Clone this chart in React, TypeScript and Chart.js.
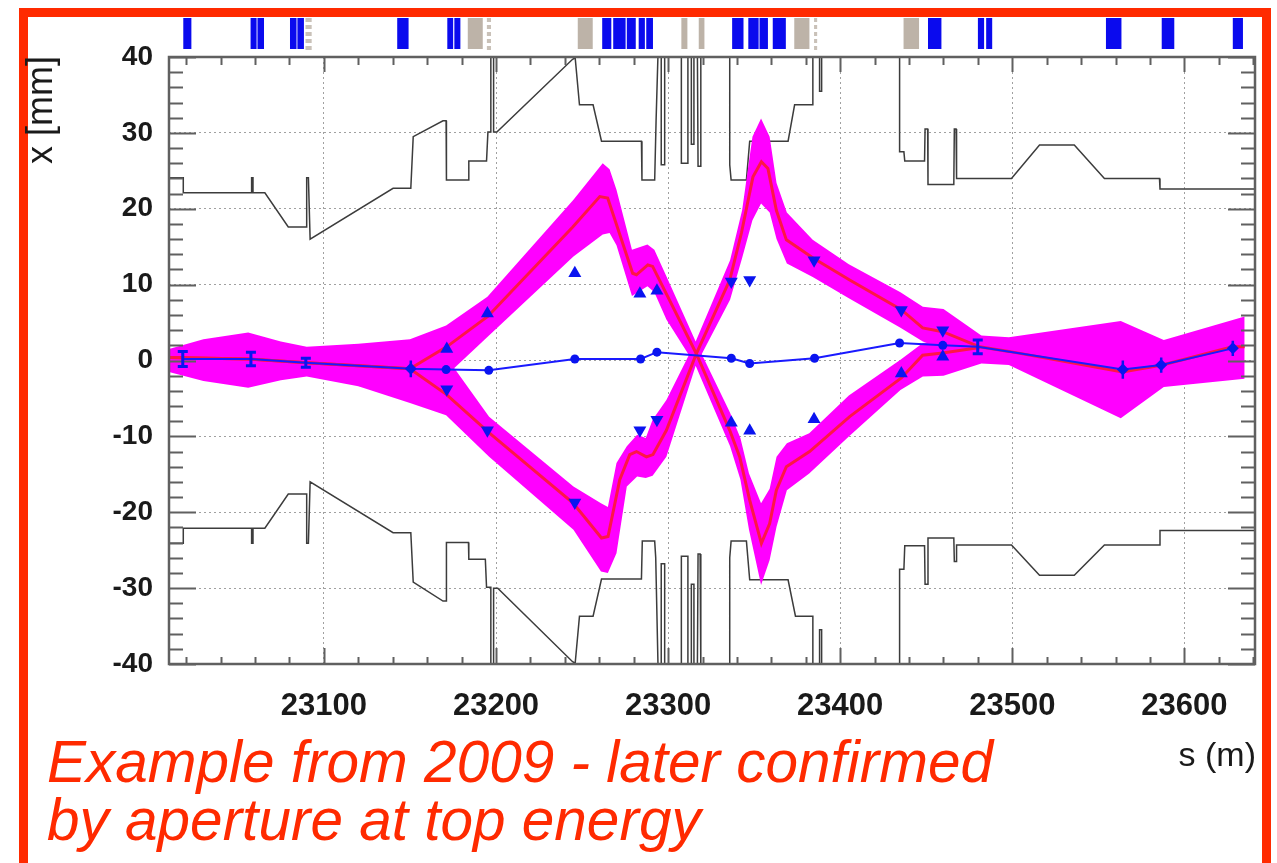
import React, { useEffect, useRef } from "react";
import { Chart, registerables } from "chart.js";

Chart.register(...registerables);

const FONT = '"Liberation Sans", Arial, Helvetica, sans-serif';

// ---------- axes ----------
const S_MIN = 23010;
const S_MAX = 23641;
const X_MIN = -40;
const X_MAX = 40;
const sTickValues = [23100, 23200, 23300, 23400, 23500, 23600];
const xTickValues = [-40, -30, -20, -10, 0, 10, 20, 30, 40];
const sMinorStep = 20;
const xMinorStep = 2;

// ---------- aperture (upper / lower), s [m] and x [mm] ----------
const apUpperS = [23010, 23018.3, 23018.3, 23058, 23058, 23058.8, 23058.8, 23065.7, 23079.3, 23090, 23090, 23091, 23092, 23140.2, 23150.5, 23151.9, 23169.2, 23171, 23171.2, 23183.8, 23184.2, 23194.5, 23195.3, 23197, 23197, 23198.6, 23198.6, 23200.5, 23244.5, 23246, 23248.5, 23256.4, 23261.3, 23284.5, 23284.8, 23292.2, 23293, 23294.2, 23296, 23296, 23298, 23298, 23307.7, 23307.7, 23311.5, 23311.5, 23313.5, 23313.5, 23315, 23315, 23317, 23317.4, 23318.6, 23319, 23335.8, 23335.8, 23336.6, 23345.5, 23347.4, 23369.7, 23373.5, 23384.1, 23384.1, 23388, 23388, 23389.2, 23389.2, 23434.5, 23434.5, 23437, 23437.5, 23449, 23449.3, 23450.8, 23451, 23466, 23466.3, 23467.3, 23467.6, 23499.5, 23515.8, 23536, 23553.5, 23585.5, 23585.8, 23641];
const apUpperX = [24.1, 24.1, 22.1, 22.1, 24.1, 24.1, 22.1, 22.1, 17.6, 17.6, 24.1, 24.1, 16.0, 22.7, 22.7, 29.5, 31.6, 31.6, 23.8, 23.8, 26.3, 26.3, 30.1, 30.1, 41, 41, 30.1, 30.1, 39.7, 39.9, 33.7, 33.7, 28.9, 28.9, 23.8, 23.8, 31.5, 41, 41, 25.8, 25.8, 41, 41, 26, 26, 41, 41, 28.5, 28.5, 41, 41, 25.6, 25.6, 41, 41, 25.8, 23.8, 23.8, 28.9, 28.9, 33.7, 33.7, 41, 41, 35.5, 35.5, 41, 41, 27.5, 27.5, 26.3, 26.3, 30.5, 30.5, 23.2, 23.2, 30.5, 30.5, 24, 24, 28.4, 28.4, 24, 24, 22.6, 22.6];

const apLowerS = [23010, 23018.3, 23018.3, 23058, 23058, 23058.8, 23058.8, 23065.7, 23079.3, 23090, 23090, 23091, 23092, 23140.2, 23150.5, 23151.9, 23169.2, 23171, 23171.2, 23184, 23184.2, 23193.8, 23194.5, 23197, 23197, 23198.6, 23198.6, 23201, 23244.5, 23246, 23248.5, 23256.4, 23261.3, 23284.5, 23285, 23292.2, 23292.8, 23294.2, 23296, 23296, 23298, 23298, 23307.7, 23307.7, 23311.5, 23311.5, 23313.5, 23313.5, 23315, 23315, 23317, 23317.4, 23318.6, 23319, 23335.8, 23335.8, 23336.6, 23345.5, 23347.4, 23369.7, 23374, 23384.1, 23384.1, 23388, 23388, 23389.2, 23389.2, 23434.5, 23434.5, 23437, 23437.5, 23449, 23449.3, 23450.8, 23451, 23466, 23466.3, 23467.3, 23467.6, 23499.5, 23515.8, 23536, 23553.5, 23585.5, 23585.8, 23641];
const apLowerX = [-24.1, -24.1, -22.1, -22.1, -24.1, -24.1, -22.1, -22.1, -17.6, -17.6, -24.1, -24.1, -16.0, -22.7, -22.7, -29.2, -31.7, -31.7, -24, -24, -26.2, -26.2, -29.9, -29.9, -41, -41, -30, -30, -39.7, -39.9, -33.7, -33.7, -28.8, -28.8, -23.8, -23.8, -26, -41, -41, -26.8, -26.8, -41, -41, -25.8, -25.8, -41, -41, -29.5, -29.5, -41, -41, -25.5, -25.5, -41, -41, -26, -23.8, -23.8, -28.9, -28.9, -33.7, -33.7, -41, -41, -35.5, -35.5, -41, -41, -27.5, -27.5, -24.4, -24.4, -29.5, -29.5, -23.4, -23.4, -26.5, -26.5, -24.3, -24.3, -28.3, -28.3, -24.3, -24.3, -22.4, -22.4];

// ---------- envelope tolerance bands (magenta) ----------
const bandUpperS = [23010, 23030, 23056, 23075, 23090, 23120, 23150, 23171, 23195, 23245, 23262, 23266, 23270, 23279, 23288, 23292, 23299, 23316, 23336, 23343, 23349, 23354, 23359, 23363, 23369, 23384, 23405, 23435, 23448, 23460, 23482, 23498, 23563, 23588, 23635];
const bandUpperHi = [1.5, 2.8, 3.7, 2.5, 1.8, 2.2, 2.8, 4.6, 8.4, 21.2, 26.0, 25.2, 22.5, 14.6, 15.3, 14.6, 11.1, 2.5, 13.2, 19.8, 29.5, 31.9, 29.5, 23.4, 19.5, 15.9, 12.7, 9.0, 7.1, 6.8, 3.3, 3.05, 5.2, 2.7, 5.8];
const bandUpperLo = [-1.5, -2.7, -3.6, -2.6, -2.1, -3.4, -3.0, -2.0, 3.1, 13.7, 16.6, 16.8, 15.2, 8.5, 9.8, 9.0, 5.4, -0.7, 8.0, 13.5, 18.5, 20.7, 19.5, 16.0, 12.8, 11.0, 8.2, 4.3, 2.5, 1.5, -0.4, -0.6, -7.6, -3.5, -2.4];

const bandLowerS = [23120, 23150, 23171, 23196, 23245, 23261, 23265, 23270, 23276, 23282, 23287, 23291, 23299, 23316, 23336, 23342, 23347, 23354, 23359, 23363, 23369, 23382, 23405, 23435, 23448, 23460, 23482];
const bandLowerHi = [-0.5, 0.0, 0.5, -7.4, -16.6, -18.8, -19.3, -13.5, -11.3, -9.8, -10.2, -7.8, -5.2, 2.5, -6.9, -10.2, -14.9, -18.8, -16.9, -12.7, -10.9, -9.6, -4.6, 0.1, 2.3, 2.6, 3.3];
const bandLowerLo = [-3.4, -5.6, -7.2, -12.7, -22.3, -27.8, -28.0, -25.4, -16.6, -15.3, -15.5, -15.2, -12.7, -0.7, -11.3, -15.7, -22.3, -29.6, -26.3, -21.9, -17.1, -14.9, -10.0, -3.9, -2.1, -2.0, -0.4];

// ---------- envelope (red) ----------
const envUpperS = [23010, 23056, 23090, 23150, 23171.3, 23195.2, 23244.6, 23260.3, 23264.9, 23279.4, 23281.6, 23288.2, 23291, 23316.4, 23335.8, 23342.6, 23349.3, 23354.2, 23358, 23362.9, 23368.7, 23384.2, 23405.5, 23435.5, 23447.9, 23459.5, 23481, 23498, 23564, 23587.2, 23627.9, 23635];
const envUpperX = [0.4, 0.2, -0.3, -1.1, 1.8, 5.8, 17.6, 21.6, 21.4, 11.5, 11.3, 12.6, 12.4, 0.9, 10.6, 16.8, 24.2, 26.2, 25.3, 19.8, 15.9, 13.5, 10.6, 6.7, 4.3, 3.8, 1.8, 1.2, -1.5, -0.6, 1.8, 1.8];
const envLowerS = [23010, 23056, 23090, 23150, 23171.3, 23196.4, 23244.8, 23261.3, 23265.1, 23271.9, 23277.7, 23281.6, 23287.4, 23291.2, 23299, 23316.4, 23335.8, 23341.6, 23347.4, 23354.2, 23359, 23362.9, 23368.7, 23382.2, 23405.5, 23435.5, 23447.9, 23459.5, 23481];
const envLowerX = [0.4, 0.2, -0.3, -1.1, -4.5, -9.6, -18.8, -23.4, -23.2, -15.7, -12.4, -12.0, -12.7, -12.4, -9.2, 0.9, -9.2, -12.7, -18.4, -24.1, -21.5, -17.1, -14.0, -12.0, -7.4, -2.3, 0.7, 1.0, 1.7];

// ---------- measured orbit (blue) ----------
const orbitS = [23018, 23057.6, 23089.5, 23150.5, 23171, 23195.8, 23245.8, 23284, 23293.5, 23336.7, 23347.4, 23385.1, 23434.5, 23459.6, 23479.9, 23564.2, 23586.5, 23628.1];
const orbitX = [0.2, 0.2, -0.3, -1.1, -1.2, -1.3, 0.2, 0.2, 1.1, 0.3, -0.4, 0.3, 2.3, 2.0, 1.8, -1.2, -0.6, 1.6];
const dotS = [23171, 23195.8, 23245.8, 23284, 23293.5, 23336.7, 23347.4, 23385.1, 23434.5, 23459.6];
const dotX = [-1.2, -1.3, 0.2, 0.2, 1.1, 0.3, -0.4, 0.3, 2.3, 2.0];
const barMarkS = [23018, 23057.6, 23089.5, 23479.9];
const barMarkX = [0.2, 0.2, -0.3, 1.8];
const barMarkErr = [1.0, 0.9, 0.6, 0.9];
const diamondS = [23150.5, 23564.2, 23586.5, 23628.1];
const diamondX = [-1.1, -1.2, -0.6, 1.6];
const diamondErr = [1.1, 1.2, 1.0, 1.0];

// ---------- measured beam size points (triangles) ----------
const triUpS = [23171.4, 23195, 23245.8, 23283.6, 23293.5, 23336.7, 23347.4, 23384.8, 23435.5, 23459.6];
const triUpX = [1.5, 6.2, 11.5, 8.8, 9.2, -8.2, -9.25, -7.75, -1.7, 0.5];
const triDownS = [23171.4, 23195, 23245.8, 23283.6, 23293.5, 23336.7, 23347.4, 23384.8, 23435.5, 23459.6];
const triDownX = [-3.8, -9.2, -18.7, -9.2, -7.8, 10.4, 10.6, 13.2, 6.65, 4.0];

// ---------- machine elements above the plot ----------
const elemStart = [23018.3, 23057.4, 23061.4, 23080.3, 23084.6, 23142.6, 23171.7, 23175.8, 23261.7, 23268.1, 23276.0, 23282.9, 23287.3, 23337.2, 23346.6, 23353.1, 23360.8, 23451.0, 23480.0, 23484.8, 23554.4, 23586.8, 23628.1, 23183.6, 23247.5, 23307.7, 23317.8, 23373.3, 23436.8, 23089.3, 23194.7, 23384.8];
const elemEnd = [23023.0, 23060.9, 23065.2, 23084.1, 23088.4, 23149.2, 23175.1, 23179.3, 23267.0, 23275.3, 23281.2, 23286.5, 23291.2, 23343.8, 23352.6, 23358.0, 23368.4, 23458.8, 23483.6, 23488.3, 23563.4, 23594.1, 23634.0, 23192.3, 23256.2, 23311.2, 23321.1, 23382.1, 23445.8, 23092.9, 23197.1, 23386.6];
const elemKind = ["b", "b", "b", "b", "b", "b", "b", "b", "b", "b", "b", "b", "b", "b", "b", "b", "b", "b", "b", "b", "b", "b", "b", "g", "g", "g", "g", "g", "g", "d", "d", "d"];

const pts = (s: number[], x: number[]) => s.map((v, i) => ({ x: v, y: x[i] }));

const framePlugin = {
  id: "frameTicks",
  afterDatasetsDraw(chart: any) {
    const { ctx, chartArea: a, scales } = chart;
    const xs = scales.x;
    const ys = scales.y;
    ctx.save();
    ctx.strokeStyle = "#606060";
    ctx.lineWidth = 2;
    ctx.beginPath();
    for (let v = X_MIN; v <= X_MAX + 1e-6; v += xMinorStep) {
      const major = xTickValues.includes(Math.round(v));
      const py = Math.round(ys.getPixelForValue(v)) + 0.5;
      const len = major ? 27 : 14;
      ctx.moveTo(a.left, py);
      ctx.lineTo(a.left + len, py);
      ctx.moveTo(a.right, py);
      ctx.lineTo(a.right - len, py);
    }
    const first = Math.ceil(S_MIN / sMinorStep) * sMinorStep;
    for (let v = first; v <= S_MAX; v += sMinorStep) {
      const major = sTickValues.includes(v);
      const px = Math.round(xs.getPixelForValue(v)) + 0.5;
      ctx.moveTo(px, a.top);
      ctx.lineTo(px, a.top + (major ? 15 : 8));
      ctx.moveTo(px, a.bottom);
      ctx.lineTo(px, a.bottom - (major ? 16 : 7));
    }
    ctx.stroke();
    ctx.lineWidth = 2.5;
    ctx.strokeRect(a.left, a.top, a.right - a.left, a.bottom - a.top);

    // error-bar markers
    ctx.strokeStyle = "#0a14f0";
    ctx.lineWidth = 3;
    ctx.beginPath();
    barMarkS.forEach((s, i) => {
      const px = xs.getPixelForValue(s);
      const y1 = ys.getPixelForValue(barMarkX[i] + barMarkErr[i]);
      const y2 = ys.getPixelForValue(barMarkX[i] - barMarkErr[i]);
      ctx.moveTo(px, y1);
      ctx.lineTo(px, y2);
      ctx.moveTo(px - 5, y1);
      ctx.lineTo(px + 5, y1);
      ctx.moveTo(px - 5, y2);
      ctx.lineTo(px + 5, y2);
    });
    ctx.stroke();
    ctx.lineWidth = 2.5;
    ctx.beginPath();
    diamondS.forEach((s, i) => {
      const px = xs.getPixelForValue(s);
      ctx.moveTo(px, ys.getPixelForValue(diamondX[i] + diamondErr[i]));
      ctx.lineTo(px, ys.getPixelForValue(diamondX[i] - diamondErr[i]));
    });
    ctx.stroke();
    ctx.restore();
  },
  afterDraw(chart: any) {
    const { ctx, scales } = chart;
    const xs = scales.x;
    ctx.save();
    elemStart.forEach((s, i) => {
      const x1 = xs.getPixelForValue(s);
      const x2 = xs.getPixelForValue(elemEnd[i]);
      const k = elemKind[i];
      if (k === "b") {
        ctx.fillStyle = "#0a0aee";
        ctx.fillRect(x1, 18, x2 - x1, 31);
      } else if (k === "g") {
        ctx.fillStyle = "#bdb3a8";
        ctx.fillRect(x1, 18, x2 - x1, 31);
      } else {
        ctx.fillStyle = "#c9c1b8";
        for (let y = 18; y < 49; y += 7) ctx.fillRect(x1, y, Math.max(2, x2 - x1), 4);
      }
    });
    ctx.restore();
  },
};

function buildConfig(): any {
  const line = (data: any, color: string, width: number, order: number, extra: any = {}) => ({
    type: "line",
    data,
    borderColor: color,
    borderWidth: width,
    pointRadius: 0,
    tension: 0,
    fill: false,
    order,
    ...extra,
  });
  const marker = (data: any, style: string, radius: number, order: number, extra: any = {}) => ({
    type: "scatter",
    data,
    pointStyle: style,
    pointRadius: radius,
    backgroundColor: "#0a14f0",
    borderColor: "#0a14f0",
    borderWidth: 0,
    order,
    ...extra,
  });
  const datasets: any[] = [
    // 0,1 upper band
    line(pts(bandUpperS, bandUpperLo), "rgba(0,0,0,0)", 0, 20),
    line(pts(bandUpperS, bandUpperHi), "rgba(0,0,0,0)", 0, 20, { fill: { target: 0 }, backgroundColor: "#ff00ff" }),
    // 2,3 lower band
    line(pts(bandLowerS, bandLowerLo), "rgba(0,0,0,0)", 0, 19),
    line(pts(bandLowerS, bandLowerHi), "rgba(0,0,0,0)", 0, 19, { fill: { target: 2 }, backgroundColor: "#ff00ff" }),
    // aperture
    line(pts(apUpperS, apUpperX), "#3c3c3c", 1.5, 30),
    line(pts(apLowerS, apLowerX), "#3c3c3c", 1.5, 30),
    // red envelope
    line(pts(envUpperS, envUpperX), "#ff1447", 3, 10),
    line(pts(envLowerS, envLowerX), "#ff1447", 3, 10),
    // orbit
    line(pts(orbitS, orbitX), "#1a1aff", 2, 5),
    marker(pts(dotS, dotX), "circle", 4.5, 2),
    marker(pts(diamondS, diamondX), "rectRot", 6, 2),
    marker(pts(triUpS, triUpX), "triangle", 7.5, 1),
    marker(pts(triDownS, triDownX), "triangle", 7.5, 1, { rotation: 180 }),
  ];

  return {
    type: "line",
    data: { datasets },
    plugins: [framePlugin],
    options: {
      responsive: false,
      animation: false,
      devicePixelRatio: 1,
      events: [],
      layout: { padding: { left: 0, top: 57, right: 22, bottom: 0 } },
      plugins: {
        legend: { display: false },
        tooltip: { enabled: false },
        title: { display: false },
      },
      scales: {
        x: {
          type: "linear",
          min: S_MIN,
          max: S_MAX,
          afterBuildTicks: (ax: any) => {
            ax.ticks = sTickValues.map((v) => ({ value: v }));
          },
          afterFit: (ax: any) => {
            ax.height = 199;
          },
          ticks: {
            autoSkip: false,
            maxRotation: 0,
            padding: 24,
            color: "#1a1a1a",
            font: { family: FONT, size: 31, weight: "bold" },
            callback: (v: any) => String(v),
          },
          grid: { drawTicks: false, color: "#a0a0a0", lineWidth: 1 },
          border: { display: false, dash: [2, 3] },
        },
        y: {
          type: "linear",
          min: X_MIN,
          max: X_MAX,
          afterBuildTicks: (ax: any) => {
            ax.ticks = xTickValues.map((v) => ({ value: v }));
          },
          afterFit: (ax: any) => {
            ax.width = 169;
          },
          ticks: {
            padding: 16,
            color: "#1a1a1a",
            font: { family: FONT, size: 28, weight: "bold" },
            callback: (v: any) => String(v),
          },
          grid: { drawTicks: false, color: "#a0a0a0", lineWidth: 1 },
          border: { display: false, dash: [2, 3] },
        },
      },
    },
  };
}

export default function App() {
  const ref = useRef<HTMLCanvasElement | null>(null);
  useEffect(() => {
    if (!ref.current) return;
    const chart = new Chart(ref.current, buildConfig());
    return () => chart.destroy();
  }, []);

  return (
    <div
      style={{
        position: "fixed",
        left: 0,
        top: 0,
        width: 1277,
        height: 863,
        background: "#ffffff",
        overflow: "hidden",
        fontFamily: FONT,
      }}
    >
      <canvas
        ref={ref}
        width={1277}
        height={863}
        style={{ position: "absolute", left: 0, top: 0, width: 1277, height: 863 }}
      />
      <div
        style={{
          position: "absolute",
          left: 19,
          top: 8,
          width: 1252,
          height: 900,
          border: "9px solid #ff2a00",
          boxSizing: "border-box",
          pointerEvents: "none",
        }}
      />
      <div
        style={{
          position: "absolute",
          left: 40,
          top: 110,
          transform: "translate(-50%, -50%) rotate(-90deg)",
          whiteSpace: "nowrap",
          fontSize: 36,
          lineHeight: "36px",
          color: "#1a1a1a",
        }}
      >
        x [mm]
      </div>
      <div
        style={{
          position: "absolute",
          right: 1277 - 1256,
          top: 737,
          whiteSpace: "nowrap",
          fontSize: 34,
          lineHeight: "34px",
          color: "#1a1a1a",
        }}
      >
        s (m)
      </div>
      <div
        style={{
          position: "absolute",
          left: 47,
          top: 733,
          whiteSpace: "nowrap",
          fontSize: 58.5,
          lineHeight: "58px",
          fontStyle: "italic",
          color: "#ff2a00",
        }}
      >
        Example from 2009 - later confirmed
        <br />
        by aperture at top energy
      </div>
    </div>
  );
}
